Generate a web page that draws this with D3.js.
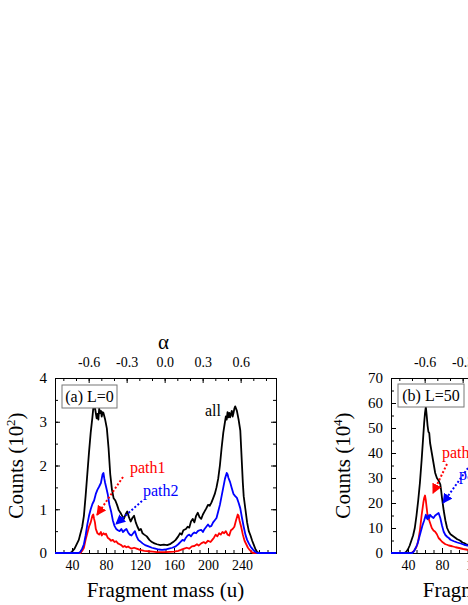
<!DOCTYPE html>
<html>
<head>
<meta charset="utf-8">
<script src="https://cdn.jsdelivr.net/npm/d3@7/dist/d3.min.js"></script>
<style>
  body { margin: 0; background: #fff; }
  svg { display: block; font-family: "Liberation Serif", "Times New Roman", serif; }
  .axis path { stroke: #000; }
  .axis line { stroke: #000; }
</style>
</head>
<body>
<svg id="chart" width="468" height="605"></svg>
<script>
// panel (a) L=0, counts in units of 10^2 ; [mass, counts]
var allA = [[20,0],[38,0],[40,0.03],[43,0.1],[46,0.22],[48,0.3],[50,0.45],[52,0.6],[54,0.85],[56,1.3],[58,1.8],[60,2.3],[62,2.75],[64,3.1],[65,3.3],[67,3.32],[68,3.2],[69,3.08],[70,3.18],[71,3.05],[72,3.3],[73,3.2],[74,3.25],[75,3.12],[76,3.22],[77,3.2],[79,3.05],[81,2.85],[83,2.4],[85,1.8],[87,1.45],[89,1.25],[91,1.2],[93,1.1],[95,0.98],[97,0.92],[99,0.85],[101,0.78],[103,0.88],[105,0.95],[107,0.82],[109,0.72],[111,0.8],[113,0.85],[115,0.7],[117,0.6],[119,0.52],[121,0.55],[123,0.45],[125,0.42],[128,0.38],[131,0.3],[134,0.25],[137,0.22],[140,0.2],[144,0.18],[148,0.19],[152,0.18],[156,0.21],[159,0.25],[162,0.3],[165,0.38],[167,0.45],[169,0.42],[171,0.52],[174,0.55],[176,0.6],[178,0.58],[180,0.72],[182,0.78],[184,0.7],[186,0.85],[188,0.92],[190,0.82],[192,0.78],[194,0.88],[196,0.95],[198,1.02],[200,1.1],[202,1.08],[204,1.15],[206,1.25],[208,1.35],[210,1.5],[212,1.7],[214,2.0],[216,2.4],[218,2.75],[220,3.0],[221,3.12],[222,3.05],[223,3.22],[224,3.1],[225,3.2],[226,3.1],[227,3.18],[228,3.25],[229,3.12],[230,3.2],[231,3.3],[232,3.35],[233,3.3],[234,3.25],[236,3.05],[238,2.8],[239,2.4],[240,2.0],[241,1.6],[242,1.3],[244,1.0],[246,0.7],[248,0.5],[250,0.4],[252,0.28],[254,0.18],[256,0.08],[258,0.02],[260,0],[280,0]];
var path1A = [[20,0],[50,0],[52,0.05],[54,0.12],[56,0.3],[58,0.45],[60,0.6],[62,0.7],[64,0.85],[65,0.88],[66,0.78],[67,0.7],[68,0.55],[69,0.5],[70,0.45],[72,0.42],[74,0.48],[75,0.4],[77,0.45],[79,0.42],[80,0.44],[82,0.35],[84,0.32],[86,0.28],[88,0.3],[90,0.25],[92,0.27],[94,0.22],[96,0.2],[98,0.18],[100,0.14],[102,0.16],[104,0.13],[106,0.15],[108,0.12],[110,0.1],[113,0.12],[116,0.1],[120,0.07],[125,0.05],[130,0.04],[135,0.03],[140,0.02],[150,0.02],[160,0.03],[165,0.05],[168,0.07],[172,0.1],[175,0.12],[178,0.1],[181,0.15],[184,0.16],[187,0.2],[189,0.17],[192,0.22],[195,0.25],[197,0.22],[200,0.28],[203,0.25],[205,0.3],[207,0.35],[209,0.42],[211,0.38],[213,0.45],[215,0.42],[217,0.48],[219,0.45],[221,0.5],[223,0.42],[225,0.4],[227,0.52],[229,0.55],[231,0.6],[233,0.75],[235,0.88],[236,0.85],[237,0.75],[239,0.6],[241,0.42],[243,0.28],[245,0.2],[247,0.12],[249,0.07],[251,0.03],[253,0],[280,0]];
var path2A = [[20,0],[48,0],[50,0.03],[52,0.1],[54,0.2],[56,0.4],[58,0.65],[60,0.85],[62,1.0],[64,1.12],[66,1.2],[68,1.35],[70,1.45],[72,1.52],[74,1.6],[76,1.8],[77,1.83],[78,1.7],[79,1.6],[80,1.52],[82,1.35],[84,1.1],[86,0.95],[88,0.75],[90,0.62],[92,0.55],[94,0.52],[96,0.5],[98,0.55],[100,0.48],[102,0.52],[104,0.55],[106,0.47],[108,0.42],[110,0.4],[112,0.45],[114,0.5],[116,0.38],[118,0.3],[120,0.27],[123,0.22],[126,0.18],[130,0.15],[134,0.12],[138,0.1],[142,0.08],[146,0.07],[150,0.08],[154,0.1],[158,0.12],[162,0.15],[165,0.2],[168,0.26],[170,0.3],[172,0.28],[174,0.35],[176,0.4],[178,0.42],[180,0.38],[182,0.44],[184,0.47],[186,0.45],[188,0.5],[190,0.52],[192,0.53],[194,0.48],[196,0.55],[198,0.6],[200,0.65],[202,0.6],[204,0.62],[206,0.7],[208,0.75],[210,0.8],[212,0.95],[214,1.1],[216,1.3],[218,1.5],[220,1.7],[222,1.83],[223,1.8],[224,1.72],[226,1.62],[228,1.48],[230,1.35],[232,1.3],[234,1.26],[236,1.15],[238,1.02],[240,0.8],[242,0.6],[244,0.42],[246,0.3],[248,0.22],[250,0.15],[252,0.1],[254,0.05],[256,0.02],[258,0],[280,0]];

// panel (b) L=50, counts in units of 10^4
var allB = [[20,0],[36,0],[38,0.5],[40,1.5],[42,3],[44,5],[46,7],[48,10],[50,15],[52,21],[54,28],[56,37],[58,47],[59,52],[60,56],[61,58.5],[62,55],[63,51],[64,48.5],[65,48],[66,44],[68,40],[70,36],[72,32],[74,30],[76,29],[78,27.5],[79,25],[80,22],[82,17],[84,13],[86,10],[88,8.5],[90,7.5],[92,7],[94,6.5],[96,6],[98,5.5],[100,5.2],[102,4.8],[104,4.2],[106,4],[108,3.6],[110,3.3],[114,3],[120,2.6]];
var path1B = [[20,0],[44,0],[46,0.5],[48,1.3],[50,2.5],[52,4.7],[54,9],[56,15],[58,20],[59,22],[60,23],[61,21],[62,18],[63,15],[64,14],[66,12],[68,10],[70,9],[72,8.5],[74,7.5],[76,6],[78,5.3],[80,4.5],[82,4],[84,3.5],[86,3.3],[88,3],[92,2.7],[96,2.3],[100,2],[105,1.6],[110,1.3],[120,1]];
var path2B = [[20,0],[45,0],[47,0.7],[49,2],[51,3.5],[53,6],[55,8.5],[57,11],[59,13],[61,15.3],[62,14],[63,13.5],[64,15],[65,14],[66,15.3],[68,14.5],[70,14],[72,15],[74,15.5],[76,16],[77,15],[78,14],[80,11],[82,8.5],[84,7.2],[86,6.5],[88,6],[90,5.3],[94,4.7],[98,4.2],[102,3.8],[106,3.3],[110,3],[120,2.5]];

var massTicks = [40, 80, 120, 160, 200, 240];
var alphaTicks = [-0.6, -0.3, 0.0, 0.3, 0.6];
var totalMass = 298; // alpha = 2m/A - 1

var FONT = '"Liberation Serif", "Times New Roman", serif';
var svg = d3.select("#chart");

// d3.axis writes its own font attrs on the group, so restyle after the call
function drawAxis(g, tr, axis, size) {
    return g.append("g").attr("class", "axis").attr("transform", tr)
        .call(axis)
        .attr("font-family", FONT).attr("font-size", size || 14);
}

function drawPanel(p) {
    var left = p.left, top = 378, w = 221, h = 175;
    var g = svg.append("g");

    var x = d3.scaleLinear().domain([20, 280]).range([left, left + w]);
    var y = d3.scaleLinear().domain([0, p.ymax]).range([top + h, top]);
    var alpha = d3.scaleLinear()
        .domain([2 * 20 / totalMass - 1, 2 * 280 / totalMass - 1])
        .range([left, left + w]);
    var bottomT = "translate(0," + (top + h) + ")", topT = "translate(0," + top + ")";
    var leftT = "translate(" + left + ",0)", rightT = "translate(" + (left + w) + ",0)";
    var yMinor = d3.range(0, p.ymax + 0.001, p.minor);

    // minor ticks first
    drawAxis(g, bottomT, d3.axisBottom(x).tickValues(d3.range(30, 280, 10)).tickSize(-3).tickFormat(""));
    drawAxis(g, topT, d3.axisTop(alpha).tickValues(d3.range(-0.8, 0.85, 0.1)).tickSize(-3).tickFormat(""));
    drawAxis(g, leftT, d3.axisLeft(y).tickValues(yMinor).tickSize(-3).tickFormat(""));
    drawAxis(g, rightT, d3.axisRight(y).tickValues(yMinor).tickSize(-3).tickFormat(""));

    // major ticks with labels
    drawAxis(g, bottomT, d3.axisBottom(x).tickValues(massTicks).tickSizeInner(-5).tickSizeOuter(0).tickPadding(7));
    drawAxis(g, topT, d3.axisTop(alpha).tickValues(alphaTicks).tickSizeInner(-5).tickSizeOuter(0).tickPadding(11)
        .tickFormat(function (d) { return d3.format(".1f")(d).replace("\u2212", "-"); }));
    drawAxis(g, leftT, d3.axisLeft(y).tickValues(p.yticks).tickSizeInner(-5).tickSizeOuter(0).tickPadding(8)
        .tickFormat(d3.format("d")), p.ysize);
    drawAxis(g, rightT, d3.axisRight(y).tickValues(p.yticks).tickSizeInner(-5).tickSizeOuter(0).tickFormat(""));

    var line = d3.line().x(function (d) { return x(d[0]); }).y(function (d) { return y(d[1]); });

    var series = [[p.all, "#000"], [p.path1, "#ff0000"], [p.path2, "#0000ff"]];
    series.forEach(function (s) {
        g.append("path").datum(s[0]).attr("d", line)
            .attr("fill", "none").attr("stroke", s[1]).attr("stroke-width", 1.8)
            .attr("stroke-linejoin", "round");
    });

    // legend box
    g.append("rect").attr("x", left + p.box[0]).attr("y", p.box[1]).attr("width", p.box[2]).attr("height", 23)
        .attr("fill", "#fff").attr("stroke", "#777").attr("stroke-width", 1);
    g.append("text").attr("x", left + p.box[0] + p.box[2] / 2).attr("y", p.box[1] + 17)
        .attr("text-anchor", "middle").attr("font-size", 16).text(p.label);

    // dotted arrows with labels
    p.notes.forEach(function (n) {
        g.append("line").attr("x1", n.from[0]).attr("y1", n.from[1]).attr("x2", n.to[0]).attr("y2", n.to[1])
            .attr("stroke", n.color).attr("stroke-width", 2).attr("stroke-dasharray", "2,2")
            .attr("marker-end", "url(#arr" + n.id + ")");
        g.append("text").attr("x", n.text[0]).attr("y", n.text[1])
            .attr("fill", n.color).attr("font-size", 16).text(n.name);
    });
    if (p.allText) {
        g.append("text").attr("x", p.allText[0]).attr("y", p.allText[1]).attr("font-size", 16).text("all");
    }

    // axis titles
    g.append("text").attr("x", left + w / 2 - 2).attr("y", 349).attr("text-anchor", "middle")
        .attr("font-size", 21).text("\u03b1");
    g.append("text").attr("x", left + w / 2).attr("y", 597).attr("text-anchor", "middle")
        .attr("font-size", 21).text("Fragment mass (u)");
    var yt = g.append("text").attr("transform", "translate(" + (left - p.ytitle) + "," + (top + h / 2) + ") rotate(-90)")
        .attr("text-anchor", "middle").attr("font-size", 21);
    yt.append("tspan").text("Counts (10");
    yt.append("tspan").attr("font-size", 13).attr("dy", -8).text(p.exp);
    yt.append("tspan").attr("dy", 8).text(")");
}

// arrowhead markers
var defs = svg.append("defs");
[["r", "#ff0000"], ["b", "#0000ff"]].forEach(function (m) {
    defs.append("marker").attr("id", "arr" + m[0]).attr("viewBox", "0 0 10 10")
        .attr("refX", 9).attr("refY", 5).attr("markerWidth", 5).attr("markerHeight", 5)
        .attr("markerUnits", "strokeWidth").attr("orient", "auto")
        .append("path").attr("d", "M0,0 L10,5 L0,10 Z").attr("fill", m[1]);
});

drawPanel({
    left: 55, ymax: 4, minor: 0.5, yticks: [0, 1, 2, 3, 4], exp: "2", ytitle: 32, ysize: 15,
    all: allA, path1: path1A, path2: path2A, label: "(a) L=0", box: [7, 385, 55],
    allText: [205, 416],
    notes: [
        { id: "r", color: "#ff0000", name: "path1", from: [123, 477], to: [97, 515], text: [130, 473] },
        { id: "b", color: "#0000ff", name: "path2", from: [142, 501], to: [116, 524], text: [143, 496] }
    ]
});

drawPanel({
    left: 391, ymax: 70, minor: 5, yticks: [0, 10, 20, 30, 40, 50, 60, 70], exp: "4", ytitle: 41, ysize: 15,
    all: allB, path1: path1B, path2: path2B, label: "(b) L=50", box: [7, 384, 66],
    notes: [
        { id: "r", color: "#ff0000", name: "path1", from: [447, 464], to: [433, 493], text: [442, 458] },
        { id: "b", color: "#0000ff", name: "path2", from: [468, 468], to: [443, 503], text: [459, 480] }
    ]
});
</script>
</body>
</html>
